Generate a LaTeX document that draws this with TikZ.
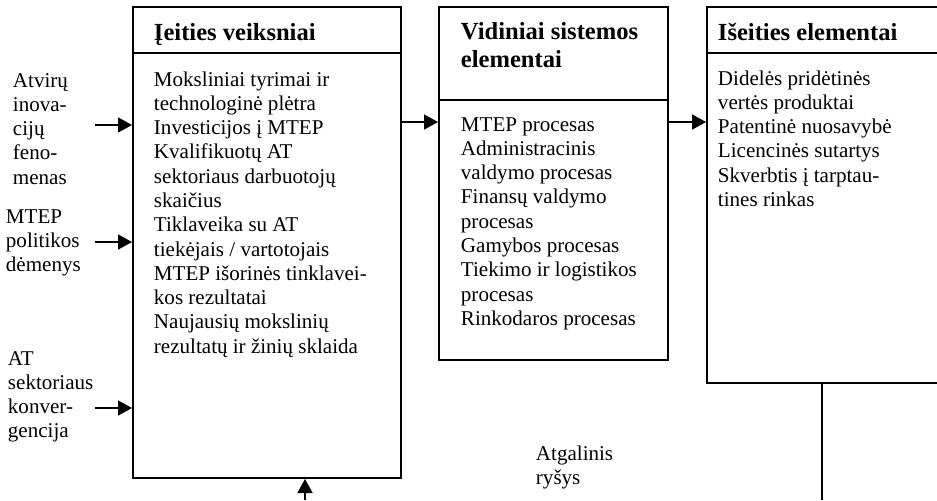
\documentclass[tikz,border=0pt]{standalone}
\usepackage{fontspec}
\setmainfont{Liberation Serif}
\usetikzlibrary{arrows.meta, fit, positioning}
\newcommand{\lineblock}[1]{\begin{tabular}[t]{@{}l@{}}#1\end{tabular}}

\begin{document}
\begin{tikzpicture}[x=0.57pt, y=-0.57pt, line width=1.1pt,
  box/.style={draw, inner sep=0pt},
  txt/.style={anchor=base west, inner sep=0pt, font=\fontsize{12}{13.85}\selectfont},
  head/.style={anchor=base west, inner sep=0pt, font=\fontsize{14}{16.5}\selectfont\bfseries},
  arr/.style={-{Triangle[length=8pt, width=8.5pt]}}]
    \useasboundingbox (0,0) rectangle (937,500);
    \clip (0,0) rectangle (937,500);
    \node[box, fit={(133,7) (401,478)}] (input) {};
    \node[box, fit={(439,7) (668,360)}] (system) {};
    \node[box, fit={(707,7) (960,383)}] (output) {};
    \draw (input.west |- 0,53) -- (input.east |- 0,53);
    \draw (system.west |- 0,100) -- (system.east |- 0,100);
    \draw (output.west |- 0,53) -- (output.east |- 0,53);
    \node[head] (inhead) at (153,40) {Įeities veiksniai};
    \node[head] (syshead) at (460,39) {\lineblock{Vidiniai sistemos\\elementai}};
    \node[head] (outhead) at (717,40) {Išeities elementai};
    \node[txt] (inlist) at (153,86) {\lineblock{Moksliniai tyrimai ir\\technologinė plėtra\\Investicijos į MTEP\\Kvalifikuotų AT\\sektoriaus darbuotojų\\skaičius\\Tiklaveika su AT\\tiekėjais / vartotojais\\MTEP išorinės tinklavei-\\kos rezultatai\\Naujausių mokslinių\\rezultatų ir žinių sklaida}};
    \node[txt] (syslist) at (460,131) {\lineblock{MTEP procesas\\Administracinis\\valdymo procesas\\Finansų valdymo\\procesas\\Gamybos procesas\\Tiekimo ir logistikos\\procesas\\Rinkodaros procesas}};
    \node[txt] (outlist) at (717,85) {\lineblock{Didelės pridėtinės\\vertės produktai\\Patentinė nuosavybė\\Licencinės sutartys\\Skverbtis į tarptau-\\tines rinkas}};
    \node[txt] (atviru) at (12,87) {\lineblock{Atvirų\\inova-\\cijų\\feno-\\menas}};
    \node[txt] (politika) at (5,223) {\lineblock{MTEP\\politikos\\dėmenys}};
    \node[txt] (konverg) at (7,365) {\lineblock{AT\\sektoriaus\\konver-\\gencija}};
    \node[txt] (feedback) at (535,460) {\lineblock{Atgalinis\\ryšys}};
    \foreach \y in {125,242,408}{
	\coordinate (s\y) at (95,\y);
	\draw[arr] (s\y) -- (s\y -| input.west);
	};
    \draw[arr] (input.east |- 0,122) -- (system.west |- 0,122);
    \draw[arr] (system.east |- 0,122) -- (output.west |- 0,122);
    \coordinate (fbend) at (822,500);
    \draw (output.south -| fbend) -- (fbend);
    \coordinate (fbstart) at (305,500);
    \draw[arr] (fbstart) -- (fbstart |- input.south);
\end{tikzpicture}
\end{document}
